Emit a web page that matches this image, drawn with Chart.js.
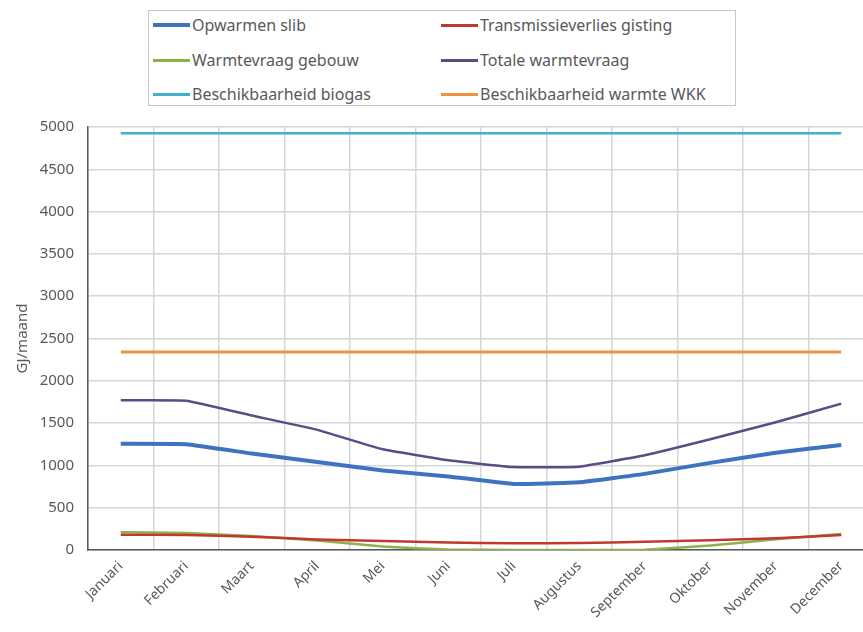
<!DOCTYPE html>
<html>
<head>
<meta charset="utf-8">
<script src="https://cdn.jsdelivr.net/npm/chart.js@4.4.0/dist/chart.umd.min.js"></script>
<style>
  html, body { margin: 0; padding: 0; background: #fff; }
  #wrap { position: relative; width: 863px; height: 632px; overflow: hidden; }
  #chart { position: absolute; left: 0; top: 0; }
  #legend {
    position: absolute; left: 148px; top: 10px; width: 588px; height: 96px;
    border: 1.5px solid #c6c6c6; box-sizing: border-box; background: #fff;
    font-family: "Noto Sans", sans-serif; font-size: 16px; color: #595959;
  }
  .item { position: absolute; height: 22px; display: flex; align-items: center; white-space: nowrap; }
  .swatch { width: 37px; margin-right: 2px; }
</style>
</head>
<body>
<div id="wrap">
  <canvas id="chart" width="874" height="632"></canvas>
  <div id="legend"></div>
</div>
<script>
const months = ['Januari', 'Februari', 'Maart', 'April', 'Mei', 'Juni', 'Juli', 'Augustus', 'September', 'Oktober', 'November', 'December'];

const opwarmenSlib      = [1255, 1250, 1140, 1040, 940, 870, 780, 800, 900, 1030, 1150, 1240];
const transmissie       = [180, 178, 158, 125, 105, 88, 80, 82, 98, 115, 138, 178];
const warmtevraagGebouw = [210, 200, 165, 112, 40, 6, 0, 0, 4, 52, 128, 188];
const totaleWarmtevraag = [1770, 1765, 1590, 1420, 1190, 1060, 980, 985, 1120, 1310, 1510, 1730];
const biogas            = [4925, 4925, 4925, 4925, 4925, 4925, 4925, 4925, 4925, 4925, 4925, 4925];
const warmteWKK         = [2340, 2340, 2340, 2340, 2340, 2340, 2340, 2340, 2340, 2340, 2340, 2340];

const textColor = '#595959';
const gridColor = '#d6d6d6';

const line = (label, data, color, width) => ({
  label: label,
  data: data,
  borderColor: color,
  backgroundColor: color,
  borderWidth: width,
  pointRadius: 0,
  tension: 0.1,
  fill: false
});

const ctx = document.getElementById('chart').getContext('2d');
const chart = new Chart(ctx, {
  type: 'line',
  data: {
    labels: months,
    datasets: [
      line('Opwarmen slib', opwarmenSlib, '#3f72c0', 4),
      line('Transmissieverlies gisting', transmissie, '#c0392f', 2.5),
      line('Warmtevraag gebouw', warmtevraagGebouw, '#8fb04a', 2.5),
      line('Totale warmtevraag', totaleWarmtevraag, '#5e4a86', 2.5),
      line('Beschikbaarheid biogas', biogas, '#3fb1cf', 2.5),
      line('Beschikbaarheid warmte WKK', warmteWKK, '#f0913e', 3)
    ]
  },
  options: {
    responsive: false,
    animation: false,
    layout: { padding: { top: 127, left: 0, right: 0, bottom: 0 } },
    plugins: {
      legend: { display: false },
      tooltip: { enabled: false }
    },
    scales: {
      x: {
        offset: true,
        grid: { offset: true, color: gridColor, lineWidth: 1.5, drawTicks: false },
        border: { color: textColor, width: 1.5 },
        ticks: {
          autoSkip: false,
          maxRotation: 45,
          minRotation: 45,
          padding: 8,
          color: textColor,
          font: { family: 'Noto Sans', size: 14 }
        },
        afterFit: (scale) => { scale.height = 82; }
      },
      y: {
        min: 0,
        max: 5000,
        ticks: {
          stepSize: 500,
          padding: 14,
          color: textColor,
          font: { family: 'Noto Sans', size: 15 },
          callback: (value) => String(value)
        },
        grid: { color: gridColor, lineWidth: 1.5, drawTicks: false },
        border: { color: textColor, width: 1.5 },
        title: {
          display: true,
          text: 'GJ/maand',
          color: textColor,
          font: { family: 'Noto Sans', size: 15 },
          padding: { top: 14, bottom: 0 }
        },
        afterFit: (scale) => { scale.width = 88; }
      }
    }
  }
});

// two-column legend box like the original
const legend = document.getElementById('legend');
const colX = [4, 292];
const rowY = [3, 38, 72];
chart.data.datasets.forEach((ds, i) => {
  const item = document.createElement('div');
  item.className = 'item';
  item.style.left = colX[i % 2] + 'px';
  item.style.top = rowY[Math.floor(i / 2)] + 'px';
  const sw = document.createElement('span');
  sw.className = 'swatch';
  sw.style.height = (ds.borderWidth > 3 ? 4 : 3) + 'px';
  sw.style.background = ds.borderColor;
  const txt = document.createElement('span');
  txt.textContent = ds.label;
  item.appendChild(sw);
  item.appendChild(txt);
  legend.appendChild(item);
});
</script>
</body>
</html>
